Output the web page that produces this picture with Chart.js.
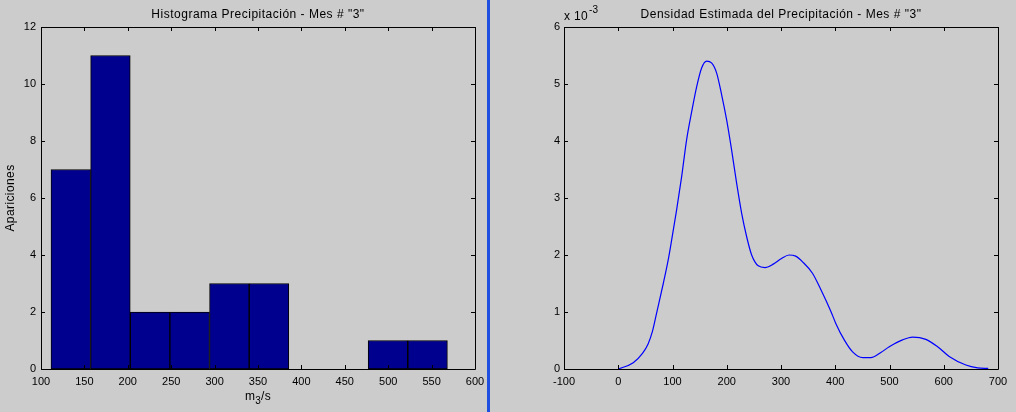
<!DOCTYPE html>
<html>
<head>
<meta charset="utf-8">
<script src="https://cdn.jsdelivr.net/npm/chart.js@4"></script>
<style>
  html, body { margin:0; padding:0; background:#cccccc; width:1016px; height:412px; overflow:hidden; }
  #left { position:absolute; left:0; top:0; width:487px; height:412px; }
  #right { position:absolute; left:490px; top:0; width:526px; height:412px; }
  #divider { position:absolute; left:487px; top:0; width:3px; height:412px; background:#1f4fe0; }
</style>
</head>
<body>
<div id="left"><canvas id="c1" width="487" height="412"></canvas></div>
<div id="divider"></div>
<div id="right"><canvas id="c2" width="526" height="412"></canvas></div>
<script>
// ---- Histogram data ----
const binCenters = [134.3, 180.0, 225.7, 271.3, 317.0, 362.7, 408.4, 454.0, 499.7, 545.4];
const binCounts  = [7, 11, 2, 2, 3, 3, 0, 0, 1, 1];
const histXTicks = [100, 150, 200, 250, 300, 350, 400, 450, 500, 550, 600];
const histYTicks = [0, 2, 4, 6, 8, 10, 12];

// ---- Density data (x in m3/s, y in units of 1e-3) ----
const densX = [0, 27.6, 45, 55, 63, 70.7, 83, 92, 98.4, 107.6, 116.8, 126, 135.3, 144.5, 153.7, 163, 172, 181.4, 190.6, 199.8, 209, 218.2, 227.5, 236.7, 245.9, 258, 270.4, 285.7, 301, 315, 327, 339.8, 358, 373.6, 392, 401, 416.6, 432, 450.5, 465.8, 484, 499.6, 524, 542.6, 567, 588.7, 610, 640.8, 662.4, 682];
const densY = [0, 0.11, 0.28, 0.44, 0.66, 0.98, 1.50, 1.91, 2.26, 2.79, 3.37, 4.02, 4.51, 4.95, 5.28, 5.40, 5.37, 5.19, 4.81, 4.37, 3.84, 3.26, 2.73, 2.32, 2.00, 1.81, 1.78, 1.84, 1.94, 2.00, 1.98, 1.88, 1.68, 1.39, 1.01, 0.80, 0.51, 0.30, 0.20, 0.20, 0.29, 0.39, 0.51, 0.56, 0.52, 0.39, 0.22, 0.07, 0.02, 0.01];
const densXTicks = [-100, 0, 100, 200, 300, 400, 500, 600, 700];
const densYTicks = [0, 1, 2, 3, 4, 5, 6];

const FONT = '"Liberation Sans", Arial, Helvetica, sans-serif';
Chart.defaults.font.family = FONT;
Chart.defaults.font.size = 11;
Chart.defaults.color = '#000';

const boxPlugin = {
  id: 'boxPlugin',
  afterDraw(chart, args, o) {
    const ctx = chart.ctx;
    const {left, right, top, bottom} = chart.chartArea;
    const x = chart.scales.x, y = chart.scales.y;
    ctx.save();
    ctx.strokeStyle = '#000';
    ctx.lineWidth = 1;
    ctx.beginPath();
    ctx.rect(Math.round(left) + 0.5, Math.round(top) + 0.5, Math.round(right - left), Math.round(bottom - top));
    ctx.stroke();
    const TL = 4;
    ctx.beginPath();
    x.ticks.forEach(t => {
      const px = Math.round(x.getPixelForValue(t.value)) + 0.5;
      ctx.moveTo(px, bottom); ctx.lineTo(px, bottom - TL);
      ctx.moveTo(px, top); ctx.lineTo(px, top + TL);
    });
    y.ticks.forEach(t => {
      const py = Math.round(y.getPixelForValue(t.value)) + 0.5;
      ctx.moveTo(left, py); ctx.lineTo(left + TL, py);
      ctx.moveTo(right, py); ctx.lineTo(right - TL, py);
    });
    ctx.stroke();
    // title
    ctx.fillStyle = '#000';
    ctx.font = '12px ' + FONT;
    ctx.letterSpacing = '0.5px';
    ctx.textAlign = 'center';
    ctx.textBaseline = 'alphabetic';
    ctx.fillText(o.title, (left + right) / 2, top - 9);
    if (o.xlabel) {
      const cx = (left + right) / 2;
      ctx.letterSpacing = '0.3px';
      ctx.textAlign = 'left';
      ctx.font = '12px ' + FONT;
      const w1 = ctx.measureText('m').width;
      ctx.font = '10px ' + FONT;
      const w2 = ctx.measureText('3').width;
      ctx.font = '12px ' + FONT;
      const w3 = ctx.measureText('/s').width;
      let sx = cx - (w1 + w2 + w3) / 2;
      const by = 400;
      ctx.fillText('m', sx, by);
      ctx.font = '10px ' + FONT;
      ctx.fillText('3', sx + w1, by + 4);
      ctx.font = '12px ' + FONT;
      ctx.fillText('/s', sx + w1 + w2, by);
    }
    if (o.ylabel) {
      ctx.save();
      ctx.letterSpacing = '0.4px';
      ctx.font = '12px ' + FONT;
      ctx.translate(14, (top + bottom) / 2);
      ctx.rotate(-Math.PI / 2);
      ctx.textAlign = 'center';
      ctx.fillText(o.ylabel, 0, 0);
      ctx.restore();
    }
    if (o.exponent) {
      ctx.letterSpacing = '0.3px';
      ctx.textAlign = 'left';
      ctx.font = '12px ' + FONT;
      ctx.fillText('x 10', left, 20);
      const w = ctx.measureText('x 10').width;
      ctx.font = '10px ' + FONT;
      ctx.fillText('-3', left + w + 1, 13);
    }
    ctx.restore();
  }
};

function fitX(s) { s.height = 43; s.paddingLeft = 0; s.paddingRight = 0; }

// ---- Histogram chart ----
new Chart(document.getElementById('c1'), {
  type: 'bar',
  data: {
    datasets: [{
      data: binCenters.map((c, i) => ({x: c, y: binCounts[i]})),
      backgroundColor: '#00008f',
      borderColor: '#000',
      borderWidth: 1,
      borderSkipped: false,
      barPercentage: 1,
      categoryPercentage: 1,
      grouped: false
    }]
  },
  options: {
    responsive: false,
    animation: false,
    events: [],
    layout: { padding: { top: 27, right: 12, left: 0, bottom: 0 } },
    plugins: {
      legend: { display: false }, tooltip: { enabled: false },
      boxPlugin: { title: 'Histograma Precipitación - Mes # "3"', xlabel: true, ylabel: 'Apariciones' }
    },
    scales: {
      x: {
        type: 'linear', min: 100, max: 600, offset: false,
        afterBuildTicks: s => { s.ticks = histXTicks.map(v => ({value: v})); },
        afterFit: fitX,
        grid: { display: false, drawTicks: false },
        border: { display: false },
        ticks: { padding: 6, maxRotation: 0, autoSkip: false, font: { size: 11 } }
      },
      y: {
        min: 0, max: 12,
        afterBuildTicks: s => { s.ticks = histYTicks.map(v => ({value: v})); },
        afterFit: s => { s.width = 41; },
        grid: { display: false, drawTicks: false },
        border: { display: false },
        ticks: { padding: 5, font: { size: 11 } }
      }
    }
  },
  plugins: [boxPlugin]
});

// ---- Density chart ----
new Chart(document.getElementById('c2'), {
  type: 'line',
  data: {
    datasets: [{
      data: densX.map((v, i) => ({x: v, y: densY[i] / 1000})),
      borderColor: '#0000ff',
      borderWidth: 1.2,
      pointRadius: 0,
      fill: false,
      cubicInterpolationMode: 'monotone'
    }]
  },
  options: {
    responsive: false,
    animation: false,
    events: [],
    layout: { padding: { top: 27, right: 18, left: 0, bottom: 0 } },
    plugins: {
      legend: { display: false }, tooltip: { enabled: false },
      boxPlugin: { title: 'Densidad Estimada del Precipitación - Mes # "3"', exponent: true }
    },
    scales: {
      x: {
        type: 'linear', min: -100, max: 700,
        afterBuildTicks: s => { s.ticks = densXTicks.map(v => ({value: v})); },
        afterFit: fitX,
        grid: { display: false, drawTicks: false },
        border: { display: false },
        ticks: { padding: 6, maxRotation: 0, autoSkip: false, font: { size: 11 } }
      },
      y: {
        type: 'linear', min: 0, max: 0.006,
        afterBuildTicks: s => { s.ticks = densYTicks.map(v => ({value: v / 1000})); },
        afterFit: s => { s.width = 74; },
        grid: { display: false, drawTicks: false },
        border: { display: false },
        ticks: { padding: 4, font: { size: 11 }, callback: v => String(Math.round(v * 1000)) }
      }
    }
  },
  plugins: [boxPlugin]
});
</script>
</body>
</html>
